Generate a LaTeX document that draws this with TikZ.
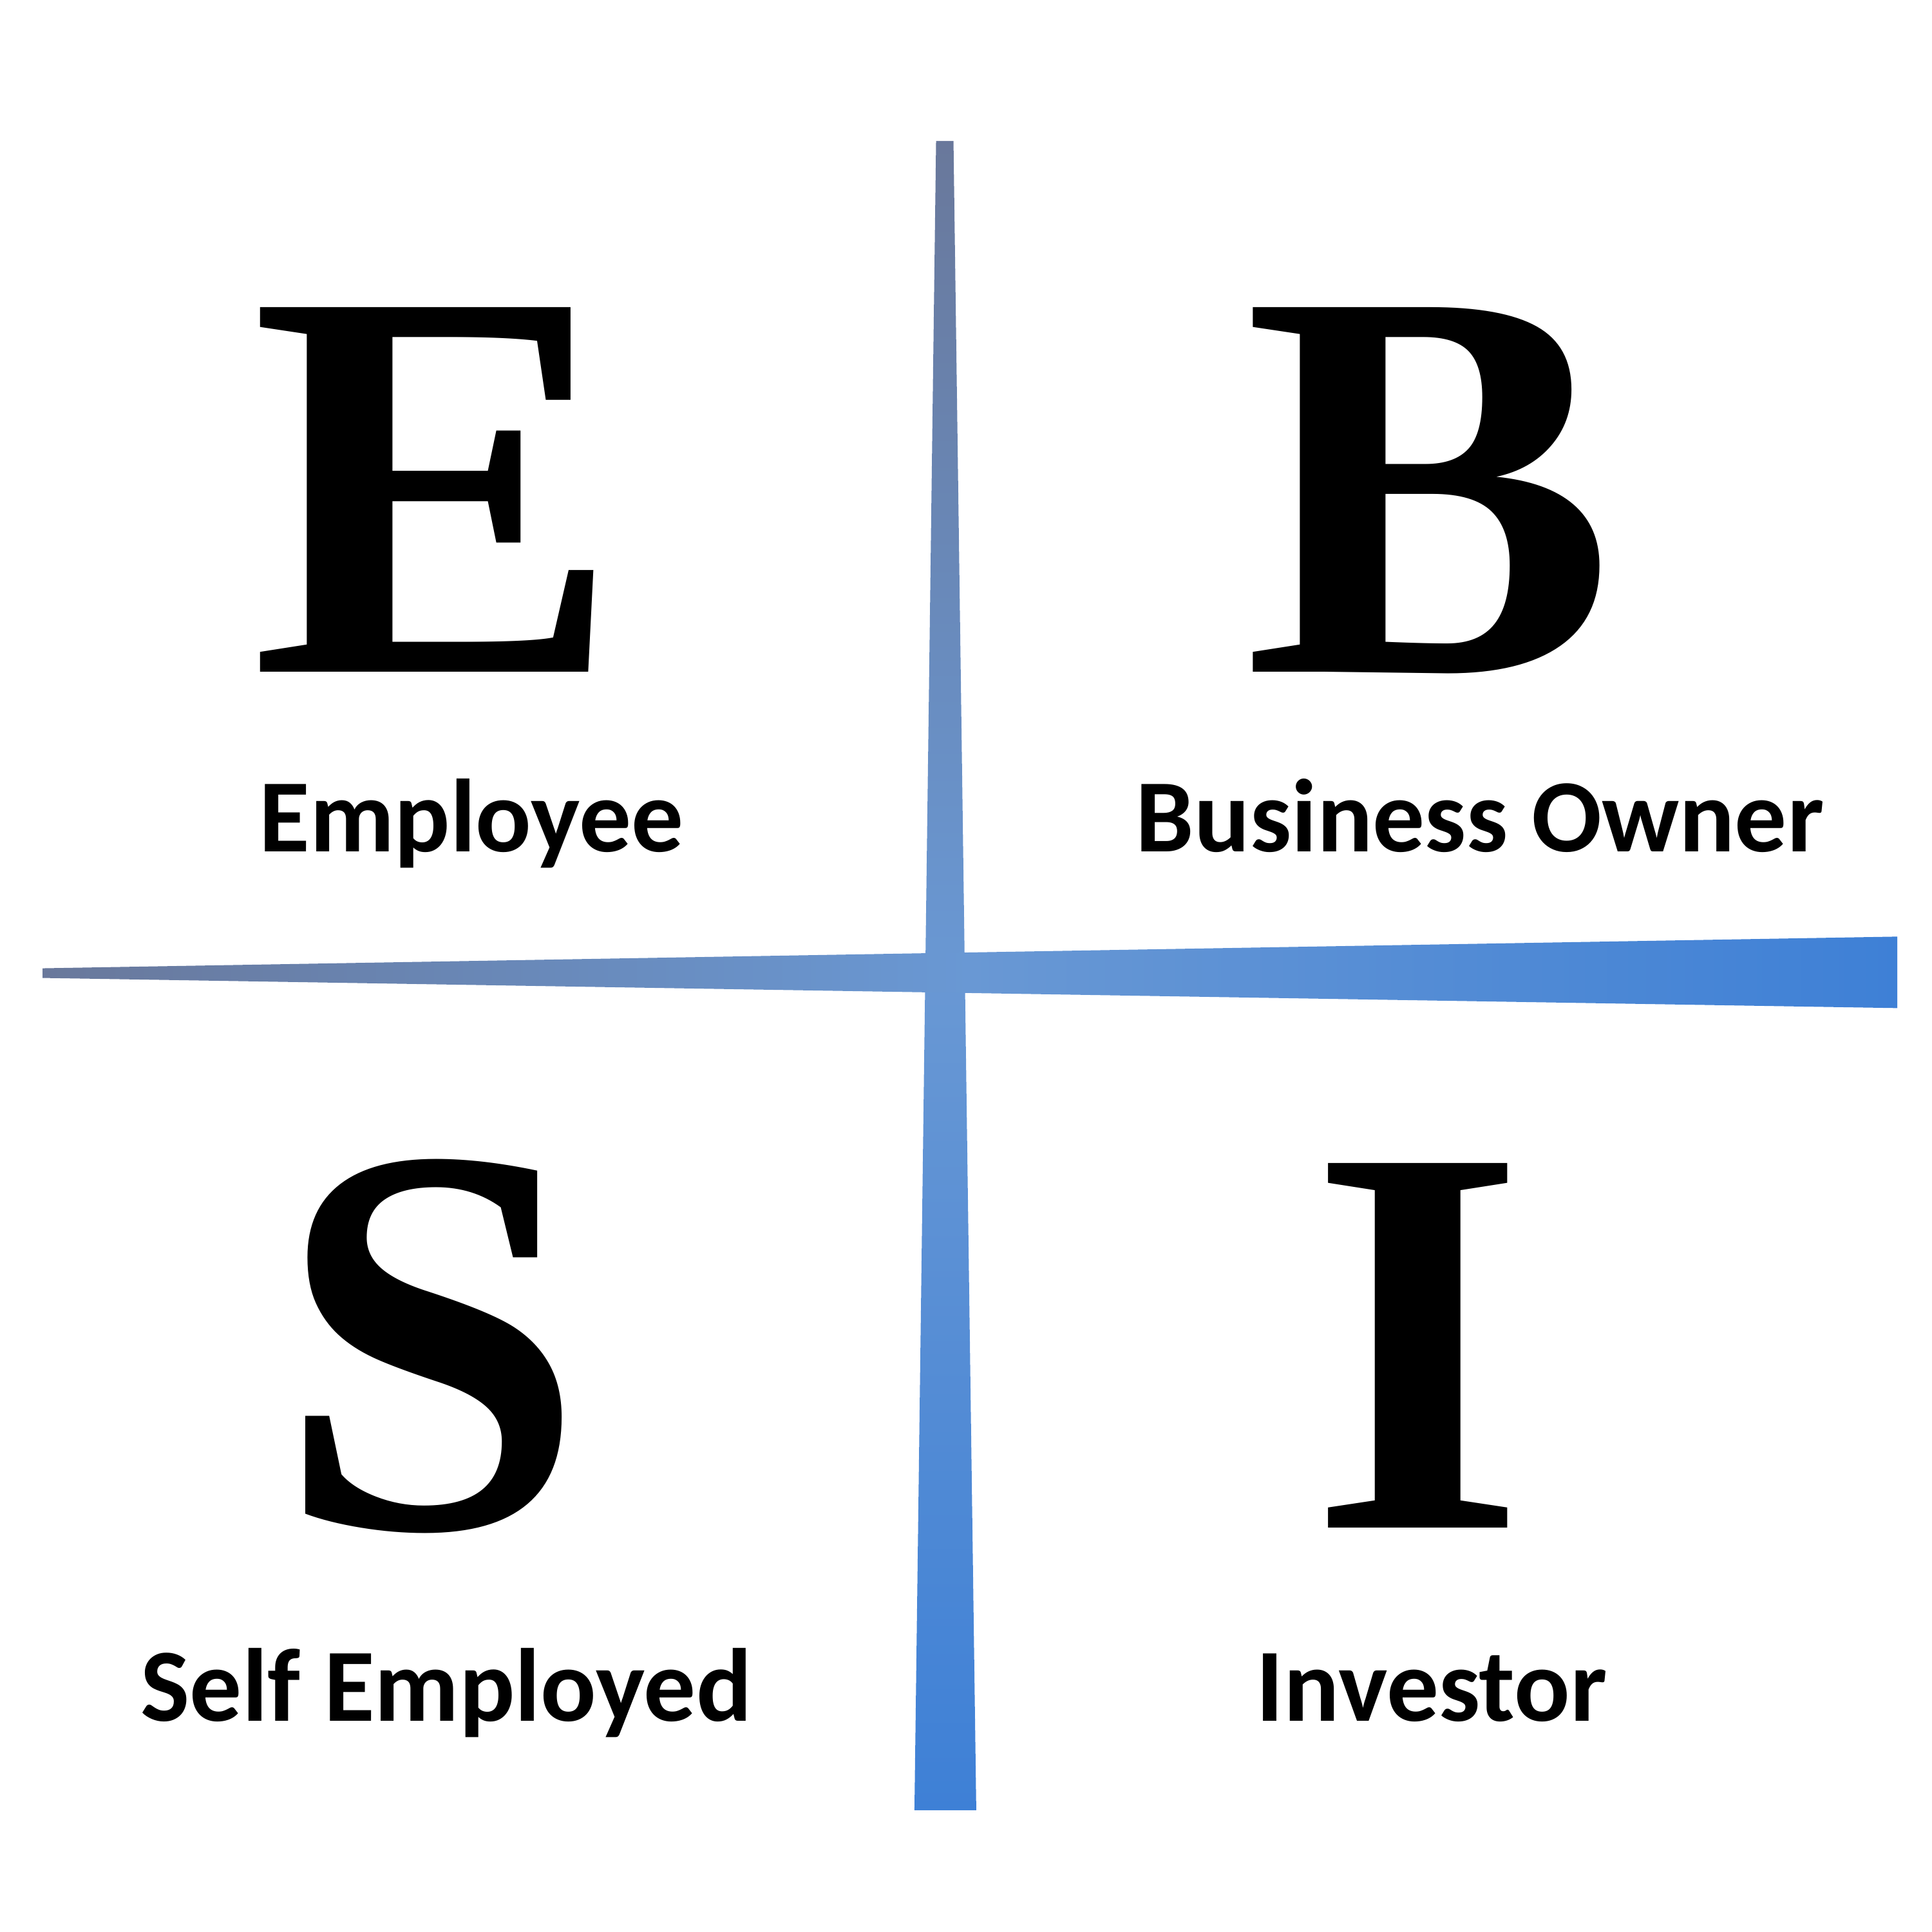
\documentclass[tikz,border=0pt]{standalone}
\usepackage{fontspec}
\setmainfont{Liberation Serif}
\newfontfamily\labelfont{Carlito}
\usepackage{tikz}
\usetikzlibrary{positioning,calc}
\definecolor{axisgrey}{RGB}{105,120,155}
\definecolor{axisblue}{RGB}{62,128,214}
\definecolor{axismid}{RGB}{105,152,212}
\tikzset{
    bigletter/.style={anchor=base,inner sep=0pt,font=\fontsize{82}{82}\selectfont\bfseries},
    quadlabel/.style={anchor=base,inner sep=0pt,font=\labelfont\fontsize{15.3}{17}\selectfont\bfseries}
}

\begin{document}
\begin{tikzpicture}[line cap=round,line join=round]

        % --- Frame ---
        \useasboundingbox (0,0) rectangle (10,10);

        % --- Variables ---
        \coordinate (vtop) at (4.89,9.27);
        \coordinate (vbot) at (4.893,0.63);
        \coordinate (hleft) at (0.22,4.963);
        \coordinate (hright) at (9.82,4.967);
        \def\vthin{0.045}
        \def\vwide{0.16}
        \def\hthin{0.025}
        \def\hwide{0.185}

        % Vertical axis
        \shade[top color=axisgrey,bottom color=axisblue,middle color=axismid]
        ($(vtop)+(-\vthin,0)$) -- ($(vtop)+(\vthin,0)$) -- ($(vbot)+(\vwide,0)$) -- ($(vbot)+(-\vwide,0)$) -- cycle;

        % Horizontal axis
        \shade[left color=axisgrey,right color=axisblue,middle color=axismid]
        ($(hleft)+(0,\hthin)$) -- ($(hright)+(0,\hwide)$) -- ($(hright)+(0,-\hwide)$) -- ($(hleft)+(0,-\hthin)$) -- cycle;

        % Quadrant letters
        \node[bigletter] (letE) at (2.26,6.52) {E};
        \node[bigletter] (letB) at (7.40,6.52) {B};
        \node[bigletter] (letS) at (2.23,2.09) {S};
        \node[bigletter] (letI) at (7.34,2.09) {I};

        % Quadrant labels
        \node[quadlabel] (labE) at (2.44,5.593) {Employee};
        \node[quadlabel] (labB) at (7.66,5.593) {Business Owner};
        \node[quadlabel] (labS) at (2.31,1.09) {Self Employed};
        \node[quadlabel] (labI) at (7.41,1.09) {Investor};

    \end{tikzpicture}
\end{document}
